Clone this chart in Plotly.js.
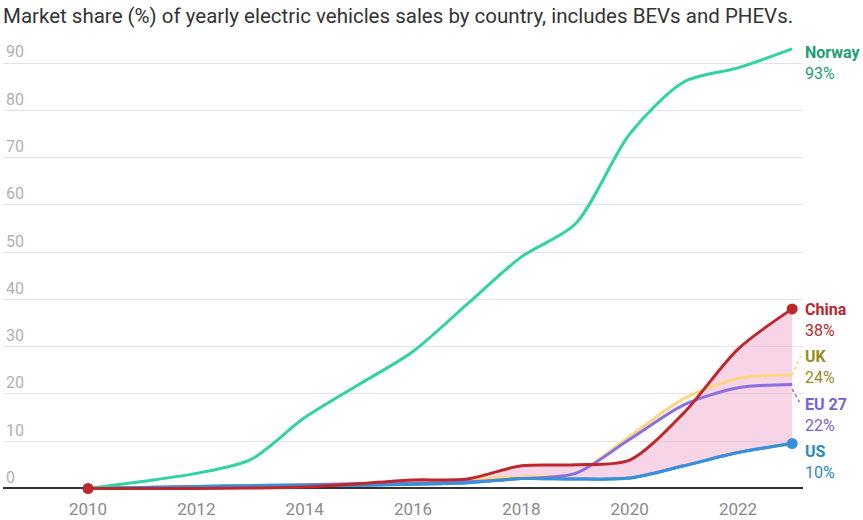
<!DOCTYPE html>
<html>
<head>
<meta charset="utf-8">
<script src="https://cdn.plot.ly/plotly-3.0.1.min.js"></script>
<style>html,body{margin:0;padding:0;background:#fff;}#chart{width:863px;height:520px;}</style>
</head>
<body>
<div id="chart"></div>
<script>
const years = [2010,2011,2012,2013,2014,2015,2016,2017,2018,2019,2020,2021,2022,2023];
const norway = [0,1.5,3.2,6.1,15,22,29,39,49,56,75,86,89,93];
const china  = [0,0,0,0.1,0.3,1,1.8,2,4.8,5,6,16,29.5,38];
const uk     = [0,0.1,0.3,0.5,0.8,1,1.3,1.9,2.5,3.2,11,19,23.3,24];
const eu     = [0,0.1,0.3,0.5,0.8,1,1.1,1.4,2.1,3.2,10.4,17.7,21.3,22];
const us     = [0,0.2,0.4,0.6,0.7,0.7,0.9,1.2,2.1,2,2.2,4.8,7.6,9.5];
const seriesNames = ["Norway","China","UK","EU 27","US"];
const xTicks = [2010,2012,2014,2016,2018,2020,2022];
const yTicks = [0,10,20,30,40,50,60,70,80,90];

const FONT = "Roboto, 'Noto Sans', sans-serif";
const lineCols = {Norway:"#2fd3a4", China:"#c0272d", UK:"#fbd680", "EU 27":"#8a6fe3", US:"#3a90d8"};
const labCols  = {Norway:"#1e9e74", China:"#b8262c", UK:"#9a8a22", "EU 27":"#7b62d3", US:"#2b88c2"};
const dataMap = {Norway:norway, China:china, UK:uk, "EU 27":eu, US:us};
const last = years[years.length-1];

function ln(name, extra){
  return Object.assign({x:years, y:dataMap[name], type:"scatter", mode:"lines", name:name,
    line:{color:lineCols[name], width:3, shape:"spline", smoothing:0.8}, hoverinfo:"skip", cliponaxis:false}, extra||{});
}
const traces = [
  ln("US"),
  {x:years, y:china, type:"scatter", mode:"lines", line:{width:0, shape:"spline", smoothing:0.8}, fill:"tonexty", fillcolor:"rgba(240,170,205,0.5)", hoverinfo:"skip"},
  ln("UK"),
  ln("EU 27"),
  ln("US"),
  ln("Norway"),
  ln("China"),
  {x:[years[0], last, last], y:[china[0], china[china.length-1], us[us.length-1]], type:"scatter", mode:"markers",
   marker:{size:11, color:[lineCols.China, lineCols.China, lineCols.US]}, hoverinfo:"skip", cliponaxis:false}
];

const labelY = {Norway:90, China:35.7, UK:25.6, "EU 27":15.6, US:5.7};
const annotations = seriesNames.map(n => {
  const v = dataMap[n][dataMap[n].length-1];
  return {xref:"paper", yref:"y", x:1, y:labelY[n], xanchor:"left", yanchor:"middle", xshift:0,
    text:"<b>"+n+"</b><br>"+Math.round(v)+"%", showarrow:false, align:"left",
    font:{family:FONT, size:16, color:labCols[n]}};
});

const layout = {
  width:863, height:520,
  margin:{l:3, r:60, t:30, b:22.5},
  paper_bgcolor:"#fff", plot_bgcolor:"#fff",
  showlegend:false,
  title:{text:"Market share (%) of yearly electric vehicles sales by country, includes BEVs and PHEVs.",
    x:0, xanchor:"left", xref:"paper", y:0.97, yanchor:"middle", yref:"container",
    font:{family:FONT, size:20.5, color:"#333"}, pad:{l:0}},
  xaxis:{range:[2008.43, 2023.2], tickvals:xTicks, ticktext:xTicks.map(String), showgrid:false, zeroline:false,
    showline:false, ticks:"", tickfont:{family:FONT, size:17, color:"#8a8a8a"}, fixedrange:true},
  yaxis:{range:[-1.8, 97], tickvals:yTicks, ticktext:yTicks.map(String), showgrid:true, gridcolor:"#e3e3e3", gridwidth:1,
    zeroline:true, zerolinecolor:"#333", zerolinewidth:2, showline:false, ticks:"",
    ticklabelposition:"inside top", tickfont:{family:FONT, size:16, color:"#b0b0b0"}, fixedrange:true},
  annotations:annotations,
  shapes:[
    {type:"line", xref:"x", yref:"y", x0:last, y0:uk[uk.length-1], x1:last+0.18, y1:28.5, line:{color:lineCols.UK, width:1.5, dash:"dot"}},
    {type:"line", xref:"x", yref:"y", x0:last, y0:eu[eu.length-1]-1, x1:last+0.15, y1:18, line:{color:lineCols["EU 27"], width:1.5, dash:"dot"}}
  ]
};
Plotly.newPlot("chart", traces, layout, {staticPlot:true, displayModeBar:false});
</script>
</body>
</html>
